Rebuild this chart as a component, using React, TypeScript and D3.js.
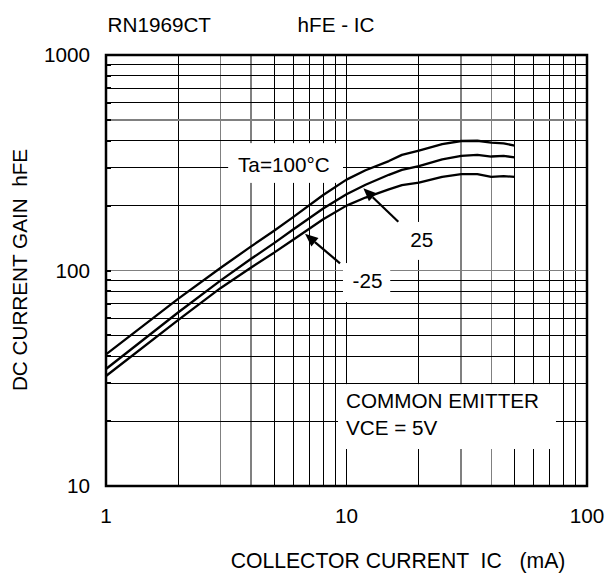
import React from "react";
import * as d3 from "d3";

const current = [1, 2, 3, 4, 5, 6, 8, 10, 12, 15, 17, 20, 25, 30, 35, 40, 45, 50];
const hfe100 = [40.8, 74, 103, 129, 153, 177, 224, 264, 292, 322, 344, 360, 386, 399, 400, 392, 389, 380];
const hfe25 = [34.9, 64, 90, 113, 134, 155, 194, 226, 250, 278, 293, 305, 328, 340, 344, 338, 340, 335];
const hfeM25 = [32.4, 59, 83, 103, 121, 139, 173, 200, 218, 238, 249, 256, 272, 280, 280, 272, 274, 272];

const xTicks = [1, 10, 100];
const yTicks = [10, 100, 1000];
const xGrid = [2, 3, 4, 5, 6, 7, 8, 9, 10, 20, 30, 40, 50, 60, 70, 80, 90];
const yGrid = [20, 30, 40, 50, 60, 70, 80, 90, 100, 200, 300, 400, 500, 600, 700, 800, 900];
const xGray = [3, 4, 30, 40];
const yGray = [100, 500];

// annotations in data coordinates
const boxes = [
  { x0: 3.22, x1: 9.67, y0: 390, y1: 255, lines: ["Ta=100°C"], tx: 3.54, ty: [287] },
  { x0: 16.7, x1: 25.7, y0: 168, y1: 112, lines: ["25"], tx: 18.4, ty: [129] },
  { x0: 9.67, x1: 15.2, y0: 108.3, y1: 71.4, lines: ["-25"], tx: 10.6, ty: [82.7] },
  { x0: 9.22, x1: 74.3, y0: 29.7, y1: 14.85, lines: ["COMMON EMITTER", "VCE = 5V"], tx: 9.95, ty: [22.9, 17.25] },
];
const arrows = [
  { fx: 16.42, fy: 168.4, tx: 11.75, ty: 241 },
  { fx: 9.4, fy: 108, tx: 6.72, ty: 148 },
];

const W = 606, H = 574;
const L = 106, R = 587, T = 55, B = 486;
const FONT = "'Liberation Sans', Arial, Helvetica, sans-serif";
const FS = 20.7;

export default function App() {
  const x = d3.scaleLog().domain([1, 100]).range([L, R]);
  const y = d3.scaleLog().domain([10, 1000]).range([B, T]);
  const line = d3.line<number>().x((_, i) => x(current[i])).y((d) => y(d)).curve(d3.curveLinear);
  const series = [hfe100, hfe25, hfeM25];

  const arrowEls = arrows.map((a, i) => {
    const x1 = x(a.fx), y1 = y(a.fy), x2 = x(a.tx), y2 = y(a.ty);
    const ang = Math.atan2(y2 - y1, x2 - x1);
    const hl = 13, hw = 5.5;
    const bx = x2 - hl * Math.cos(ang), by = y2 - hl * Math.sin(ang);
    const px = -Math.sin(ang) * hw, py = Math.cos(ang) * hw;
    return (
      <g key={"a" + i}>
        <line x1={x1} y1={y1} x2={bx} y2={by} stroke="#000" strokeWidth={2.2} />
        <polygon points={`${x2},${y2} ${bx + px},${by + py} ${bx - px},${by - py}`} fill="#000" />
      </g>
    );
  });

  return (
    <svg width={W} height={H} style={{ position: "absolute", left: 0, top: 0, background: "#fff" }} fontFamily={FONT}>
      <rect x={0} y={0} width={W} height={H} fill="#fff" />
      {/* grid */}
      <g shapeRendering="crispEdges">
        {xGrid.map((v) => (
          <line key={"gx" + v} x1={x(v)} x2={x(v)} y1={T} y2={B} stroke={xGray.includes(v) ? "#808080" : "#000"} strokeWidth={xGray.includes(v) ? 1.5 : 1} />
        ))}
        {yGrid.map((v) => (
          <line key={"gy" + v} x1={L} x2={R} y1={y(v)} y2={y(v)} stroke={yGray.includes(v) ? "#808080" : "#000"} strokeWidth={yGray.includes(v) ? 1.5 : 1} />
        ))}
        {yGrid.map((v) => (
          <line key={"tk" + v} x1={L} x2={L + 5} y1={y(v)} y2={y(v)} stroke="#000" strokeWidth={2} />
        ))}
      </g>
      {/* label boxes */}
      {boxes.map((b, i) => (
        <g key={"b" + i}>
          <rect x={x(b.x0)} y={y(b.y0)} width={x(b.x1) - x(b.x0)} height={y(b.y1) - y(b.y0)} fill="#fff" />
          {b.lines.map((t, j) => (
            <text key={j} x={x(b.tx)} y={y(b.ty[j])} fontSize={FS} fill="#000">{t}</text>
          ))}
        </g>
      ))}
      {/* curves */}
      {series.map((s, i) => (
        <path key={"s" + i} d={line(s) || ""} fill="none" stroke="#000" strokeWidth={2.3} strokeLinejoin="round" />
      ))}
      {arrowEls}
      {/* frame */}
      <rect x={L} y={T} width={R - L} height={B - T} fill="none" stroke="#000" strokeWidth={2.5} />
      {/* tick labels */}
      {xTicks.map((v) => (
        <text key={"xt" + v} x={x(v)} y={523} fontSize={FS} textAnchor="middle">{v}</text>
      ))}
      {yTicks.map((v) => (
        <text key={"yt" + v} x={90} y={y(v)} dy="0.35em" fontSize={FS} textAnchor="end">{v}</text>
      ))}
      {/* titles */}
      <text x={107.5} y={31.7} fontSize={FS}>RN1969CT</text>
      <text x={297.5} y={31.7} fontSize={FS}>hFE - IC</text>
      <text x={398} y={568} fontSize={21.2} textAnchor="middle" style={{ whiteSpace: "pre" }}>{"COLLECTOR CURRENT  IC   (mA)"}</text>
      <text transform={`translate(27,270) rotate(-90)`} fontSize={FS} textAnchor="middle" style={{ whiteSpace: "pre" }}>{"DC CURRENT GAIN  hFE"}</text>
    </svg>
  );
}
